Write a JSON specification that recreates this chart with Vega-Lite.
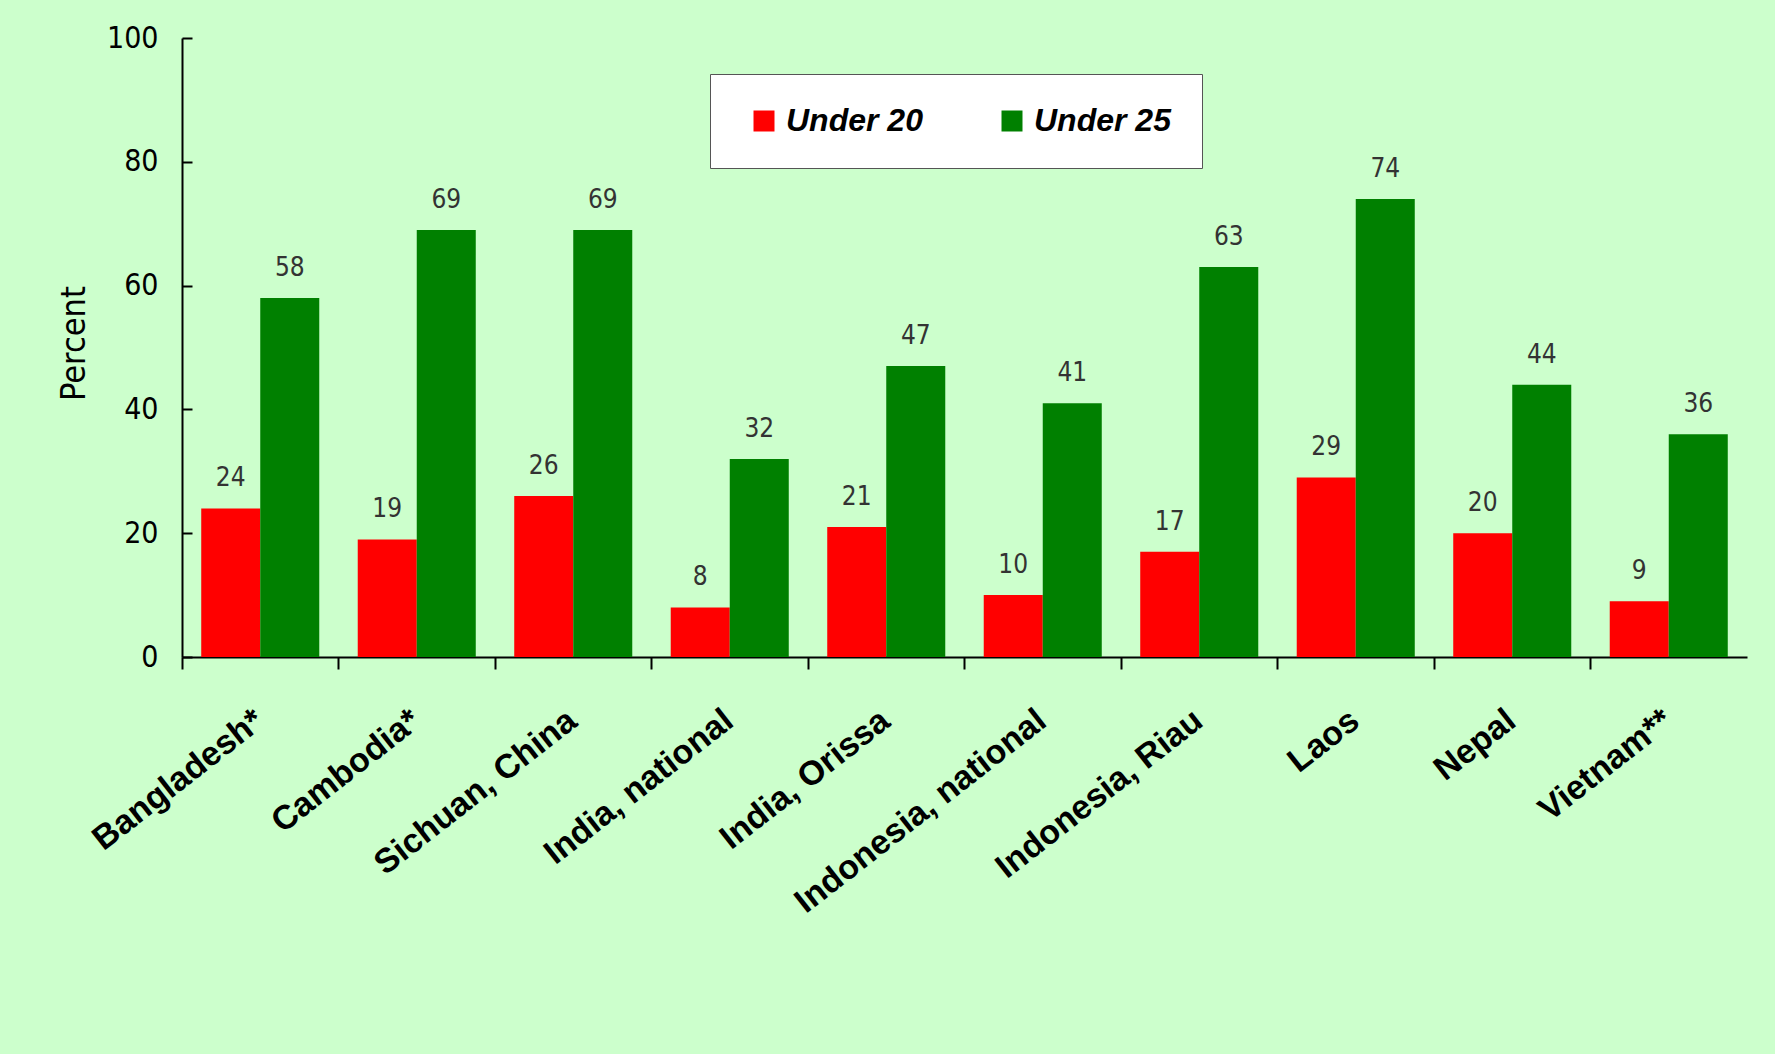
{
  "$schema": "https://vega.github.io/schema/vega-lite/v6.json",
  "width": 1565,
  "height": 619,
  "autosize": {"type": "none"},
  "padding": {"left": 182, "top": 38, "right": 28, "bottom": 397},
  "background": "#CCFFCC",
  "config": {"view": {"stroke": null}, "axis": {"grid": false}},
  "data": {
    "values": [
      {"country": "Bangladesh*", "group": "Under 20", "value": 24},
      {"country": "Bangladesh*", "group": "Under 25", "value": 58},
      {"country": "Cambodia*", "group": "Under 20", "value": 19},
      {"country": "Cambodia*", "group": "Under 25", "value": 69},
      {"country": "Sichuan, China", "group": "Under 20", "value": 26},
      {"country": "Sichuan, China", "group": "Under 25", "value": 69},
      {"country": "India, national", "group": "Under 20", "value": 8},
      {"country": "India, national", "group": "Under 25", "value": 32},
      {"country": "India, Orissa", "group": "Under 20", "value": 21},
      {"country": "India, Orissa", "group": "Under 25", "value": 47},
      {"country": "Indonesia, national", "group": "Under 20", "value": 10},
      {"country": "Indonesia, national", "group": "Under 25", "value": 41},
      {"country": "Indonesia, Riau", "group": "Under 20", "value": 17},
      {"country": "Indonesia, Riau", "group": "Under 25", "value": 63},
      {"country": "Laos", "group": "Under 20", "value": 29},
      {"country": "Laos", "group": "Under 25", "value": 74},
      {"country": "Nepal", "group": "Under 20", "value": 20},
      {"country": "Nepal", "group": "Under 25", "value": 44},
      {"country": "Vietnam**", "group": "Under 20", "value": 9},
      {"country": "Vietnam**", "group": "Under 25", "value": 36}
    ]
  },
  "encoding": {
    "x": {
      "field": "country",
      "type": "nominal",
      "sort": null,
      "scale": {"paddingInner": 0, "paddingOuter": 0},
      "axis": {
        "title": null,
        "bandPosition": 0,
        "labelOffset": -11,
        "labelAngle": -38,
        "labelFont": "Liberation Sans",
        "labelFontWeight": "bold",
        "labelFontSize": 34,
        "labelColor": "black",
        "labelPadding": 34,
        "labelLimit": 0,
        "tickSize": 12,
        "tickWidth": 2,
        "tickColor": "black",
        "domainColor": "black",
        "domainWidth": 2
      }
    },
    "xOffset": {
      "field": "group",
      "type": "nominal",
      "sort": ["Under 20", "Under 25"],
      "scale": {"paddingInner": 0, "paddingOuter": 0.326}
    },
    "y": {
      "field": "value",
      "type": "quantitative",
      "scale": {"domain": [0, 100]},
      "axis": {
        "values": [0, 20, 40, 60, 80, 100],
        "title": "Percent",
        "titleFont": "DejaVu Sans Condensed",
        "titleFontWeight": "normal",
        "titleFontSize": 34,
        "titleColor": "black",
        "titleAngle": -90,
        "titleX": -98,
        "titleY": 305,
        "titleAlign": "center",
        "titleBaseline": "alphabetic",
        "labelFont": "DejaVu Sans Condensed",
        "labelFontSize": 30,
        "labelColor": "black",
        "labelPadding": 34,
        "tickSize": -10,
        "tickWidth": 2,
        "tickColor": "black",
        "domainColor": "black",
        "domainWidth": 2
      }
    }
  },
  "layer": [
    {
      "mark": {"type": "bar"},
      "encoding": {
        "color": {
          "field": "group",
          "type": "nominal",
          "scale": {"domain": ["Under 20", "Under 25"], "range": ["#FF0000", "#008000"]},
          "legend": {
            "orient": "none",
            "legendX": 528,
            "legendY": 36,
            "direction": "horizontal",
            "title": null,
            "fillColor": "white",
            "strokeColor": "#555555",
            "padding": 31,
            "symbolType": "square",
            "symbolSize": 441,
            "symbolStrokeWidth": 0,
            "symbolOffset": 7,
            "labelFont": "Liberation Sans",
            "labelFontStyle": "italic",
            "labelFontWeight": "bold",
            "labelFontSize": 32,
            "labelColor": "black",
            "labelOffset": 6,
            "labelLimit": 0,
            "columnPadding": 66
          }
        }
      }
    },
    {
      "mark": {
        "type": "text",
        "baseline": "alphabetic",
        "dy": -22,
        "font": "DejaVu Sans Condensed",
        "fontSize": 26,
        "color": "#333333"
      },
      "encoding": {"text": {"field": "value", "type": "quantitative"}}
    }
  ]
}
